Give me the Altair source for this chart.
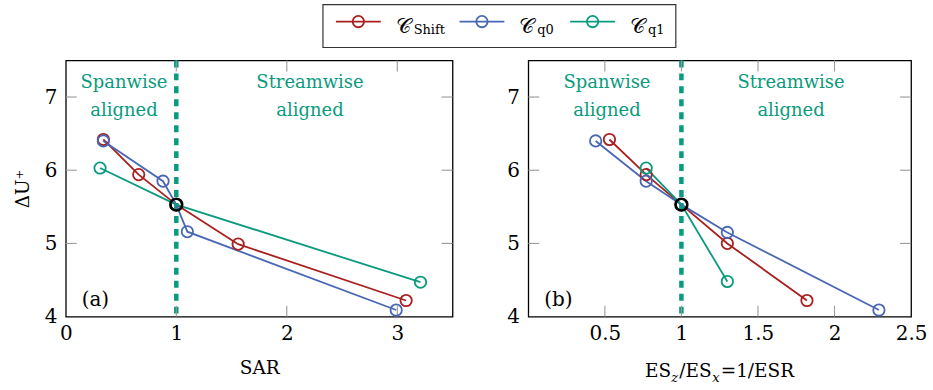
import altair as alt
import pandas as pd

# ---------------- data ----------------
series = ["Shift", "q0", "q1"]
colors = ["#A8201F", "#4A67B5", "#0A9A7E"]
teal = "#0A9A7E"

a_shift_x = [0.34, 0.66, 1.00, 1.56, 3.08]
a_shift_y = [6.42, 5.94, 5.53, 4.99, 4.22]
a_q0_x = [0.34, 0.88, 1.00, 1.10, 2.99]
a_q0_y = [6.40, 5.85, 5.53, 5.16, 4.09]
a_q1_x = [0.31, 1.00, 3.21]
a_q1_y = [6.03, 5.53, 4.47]

b_shift_x = [0.53, 0.77, 1.00, 1.30, 1.82]
b_shift_y = [6.42, 5.94, 5.53, 5.00, 4.22]
b_q0_x = [0.44, 0.77, 1.00, 1.30, 2.29]
b_q0_y = [6.40, 5.85, 5.53, 5.15, 4.09]
b_q1_x = [0.77, 1.00, 1.30]
b_q1_y = [6.03, 5.53, 4.48]

ref_x = [1.0]
ref_y = [5.53]
divider_x = [1.0]

a_xticks = [0, 1, 2, 3]
b_xticks = [0.5, 1, 1.5, 2, 2.5]
y_ticks = [4, 5, 6, 7]
a_xdomain = [0, 3.5]
b_xdomain = [0, 2.5]
y_domain = [4, 7.5]

ann_text = ["Spanwise\naligned", "Streamwise\naligned"]
a_ann_x = [0.527, 2.21]
b_ann_x = [0.514, 1.716]
ann_y = [7.13, 7.13]
panel_labels = ["(a)", "(b)"]
a_label_pos = (0.144, 4.15)
b_label_pos = (0.104, 4.15)

FONT = "DejaVu Serif"
H = 257
WA = 388
WB = 384
TICK = 11
TITLE_FS = 18.5
SUB_FS = 13


def series_df(xs_list, ys_list):
    rows = []
    for s, xs, ys in zip(series, xs_list, ys_list):
        for i, (x, y) in enumerate(zip(xs, ys)):
            rows.append({"series": s, "i": i, "x": x, "y": y})
    return pd.DataFrame(rows)


color_scale = alt.Scale(domain=series, range=colors)


def panel(df, xdomain, xticks, width, ann_x, label, label_pos, ytitle, xtitle):
    xscale = alt.Scale(domain=xdomain, nice=False, zero=False)
    yscale = alt.Scale(domain=y_domain, nice=False, zero=False)
    xaxis = alt.Axis(values=xticks, format="~g", title=xtitle, labelFlush=False,
                     ticks=False, domain=False, grid=False, labelPadding=7,
                     titlePadding=15)
    yaxis = alt.Axis(values=y_ticks, format="d", title=ytitle, ticks=False,
                     domain=False, grid=False, labelPadding=9, titlePadding=12)
    X = alt.X("x:Q", scale=xscale, axis=xaxis)
    Y = alt.Y("y:Q", scale=yscale, axis=yaxis)

    base = alt.Chart(df)
    lines = base.mark_line(strokeWidth=1.8).encode(
        x=X, y=Y,
        color=alt.Color("series:N", scale=color_scale, legend=None),
        detail="series:N", order="i:Q")
    pts = base.mark_point(shape="circle", size=130, strokeWidth=1.8, filled=False,
                          opacity=1).encode(
        x="x:Q", y="y:Q",
        color=alt.Color("series:N", scale=color_scale, legend=None))
    refp = alt.Chart(pd.DataFrame({"x": ref_x, "y": ref_y})).mark_point(
        shape="circle", size=140, strokeWidth=2.6, filled=False, color="black",
        opacity=1).encode(x="x:Q", y="y:Q")
    divider = alt.Chart(pd.DataFrame({"x": divider_x})).mark_rule(
        color=teal, strokeWidth=4.5, strokeDash=[7, 6]).encode(x="x:Q")

    # inward ticks on all four sides
    inner_x = [t for t in xticks if xdomain[0] < t < xdomain[1]]
    inner_y = [t for t in y_ticks if y_domain[0] < t < y_domain[1]]
    txdf = pd.DataFrame({"x": inner_x})
    tydf = pd.DataFrame({"y": inner_y})
    tick_style = dict(color="#9a9a9a", strokeWidth=1.1)
    tb = alt.Chart(txdf).mark_rule(**tick_style).encode(
        x="x:Q", y=alt.value(H), y2=alt.value(H - TICK))
    tt = alt.Chart(txdf).mark_rule(**tick_style).encode(
        x="x:Q", y=alt.value(0), y2=alt.value(TICK))
    tl = alt.Chart(tydf).mark_rule(**tick_style).encode(
        y="y:Q", x=alt.value(0), x2=alt.value(TICK))
    tr = alt.Chart(tydf).mark_rule(**tick_style).encode(
        y="y:Q", x=alt.value(width - TICK), x2=alt.value(width))

    ann = alt.Chart(pd.DataFrame({"x": ann_x, "y": ann_y, "t": ann_text})).mark_text(
        font=FONT, fontSize=18, color=teal, align="center", baseline="alphabetic",
        lineBreak="\n", lineHeight=29).encode(x="x:Q", y="y:Q", text="t:N")
    lab = alt.Chart(pd.DataFrame({"x": [label_pos[0]], "y": [label_pos[1]],
                                  "t": [label]})).mark_text(
        font=FONT, fontSize=20, color="black", align="left",
        baseline="alphabetic").encode(x="x:Q", y="y:Q", text="t:N")

    layers = [divider, tb, tt, tl, tr, lines, pts, refp, ann, lab]
    return layers


# ---------------- panel (a) ----------------
dfa = series_df([a_shift_x, a_q0_x, a_q1_x], [a_shift_y, a_q0_y, a_q1_y])
layers_a = panel(dfa, a_xdomain, a_xticks, WA, a_ann_x, panel_labels[0],
                 a_label_pos, "ΔU⁺", "SAR")

# legend drawn above panel (a), in pixel space
leg_w_line = 45
leg_gap_text = 15
leg_gap_next = 17
c_width = 18
sub_widths = {"Shift": 29, "q0": 16, "q1": 16}
leg_x0 = 258
cur = leg_x0 + 13
rows = []
for s in series:
    rows.append({"series": s, "l0": cur, "l1": cur + leg_w_line,
                 "c": cur + leg_w_line / 2, "tc": cur + leg_w_line + leg_gap_text,
                 "ts": cur + leg_w_line + leg_gap_text + c_width, "sub": s, "C": "𝒞"})
    cur = cur + leg_w_line + leg_gap_text + c_width + sub_widths[s] + leg_gap_next
leg_x1 = cur - leg_gap_next + 12
legdf = pd.DataFrame(rows)
LEG_Y = -39
box = alt.Chart(pd.DataFrame({"a": [0]})).mark_rect(
    fill="white", stroke="#333333", strokeWidth=1.2).encode(
    x=alt.value(leg_x0), x2=alt.value(leg_x1), y=alt.value(-56), y2=alt.value(-13))
lcol = alt.Color("series:N", scale=color_scale, legend=None)
leg_lines = alt.Chart(legdf).mark_rule(strokeWidth=1.8).encode(
    x=alt.X("l0:Q", scale=None), x2="l1:Q", y=alt.value(LEG_Y), color=lcol)
leg_pts = alt.Chart(legdf).mark_point(shape="circle", size=130, strokeWidth=1.8,
                                      filled=False, opacity=1).encode(
    x=alt.X("c:Q", scale=None), y=alt.value(LEG_Y), color=lcol)
leg_c = alt.Chart(legdf).mark_text(font=FONT, fontSize=21, align="left",
                                   baseline="alphabetic", color="black").encode(
    x=alt.X("tc:Q", scale=None), y=alt.value(-28), text="C:N")
leg_sub = alt.Chart(legdf).mark_text(font=FONT, fontSize=SUB_FS, align="left",
                                     baseline="alphabetic", color="black").encode(
    x=alt.X("ts:Q", scale=None), y=alt.value(-27), text="sub:N")

left = alt.layer(*layers_a, box, leg_lines, leg_pts, leg_c, leg_sub).properties(
    width=WA, height=H)

# ---------------- panel (b) ----------------
dfb = series_df([b_shift_x, b_q0_x, b_q1_x], [b_shift_y, b_q0_y, b_q1_y])
layers_b = panel(dfb, b_xdomain, b_xticks, WB, b_ann_x, panel_labels[1],
                 b_label_pos, None, None)

# x-axis title with subscripts: ES_z/ES_x=1/ESR
pieces = [("ES", TITLE_FS, "normal", 0), ("z", SUB_FS, "italic", 5),
          ("/ES", TITLE_FS, "normal", 0), ("x", SUB_FS, "italic", 5),
          ("=1/ESR", TITLE_FS, "normal", 0)]
piece_w = [26.5, 8.0, 33.0, 8.5, 74.0]
total = sum(piece_w)
start = WB / 2 - total / 2
title_layers = []
cx = start
for (txt, fs, style, dy), w in zip(pieces, piece_w):
    title_layers.append(
        alt.Chart(pd.DataFrame({"t": [txt]})).mark_text(
            font=FONT, fontSize=fs, fontStyle=style, align="left",
            baseline="alphabetic", color="black", dy=dy).encode(
            x=alt.value(cx), y=alt.value(H + 61), text="t:N"))
    cx += w

right = alt.layer(*layers_b, *title_layers).properties(width=WB, height=H)

chart = alt.hconcat(left, right, spacing=76, bounds="flush").resolve_scale(
    x="independent").properties(
    padding={"left": 12, "top": 2, "right": 5, "bottom": 5}
).configure_view(stroke="black", strokeWidth=1.3).configure_axis(
    labelFont=FONT, labelFontSize=20, labelColor="black",
    titleFont=FONT, titleFontSize=TITLE_FS, titleFontWeight="normal",
    titleColor="black"
)

chart.save("out.html", embed_options={"renderer": "svg", "actions": False})
